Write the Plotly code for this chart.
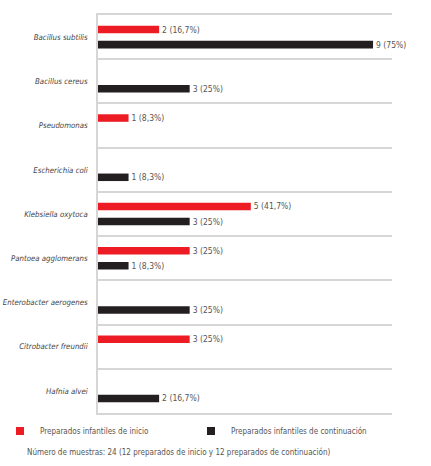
import plotly.graph_objects as go

categories = ["Bacillus subtilis", "Bacillus cereus", "Pseudomonas", "Escherichia coli",
              "Klebsiella oxytoca", "Pantoea agglomerans", "Enterobacter aerogenes",
              "Citrobacter freundii", "Hafnia alvei"]
inicio = [2, None, 1, None, 5, 3, None, 3, None]
continuacion = [9, 3, None, 1, 3, 1, 3, None, 2]
total_por_grupo = 12
series_names = ["Preparados infantiles de inicio", "Preparados infantiles de continuación"]
footer = "Número de muestras: 24 (12 preparados de inicio y 12 preparados de continuación)"


def labels(vals):
    out = []
    for v in vals:
        if v is None:
            out.append("")
            continue
        p = round(v / total_por_grupo * 100, 1)
        s = ("%g" % p).replace(".", ",")
        out.append(f"{v} ({s}%)")
    return out


RED = "#ed1c24"
BLACK = "#231f20"
FONT = "DejaVu Sans Condensed, Liberation Sans Narrow, Liberation Sans, sans-serif"
GRAY = "#555555"

fig = go.Figure()
for i, (name, vals, col) in enumerate([(series_names[0], inicio, RED),
                                       (series_names[1], continuacion, BLACK)]):
    fig.add_trace(go.Bar(
        y=categories, x=vals, orientation="h", name=name,
        marker=dict(color=col, line=dict(width=0)),
        text=labels(vals), textposition="outside", cliponaxis=False,
        constraintext="none",
        textfont=dict(family=FONT, size=8.5, color=GRAY),
        showlegend=False,
    ))
    fig.add_trace(go.Scatter(
        x=[None], y=[None], mode="markers", name=name,
        marker=dict(symbol="square", size=8, color=col),
        legendwidth=146 if i == 0 else 140,
        showlegend=True,
    ))

fig.update_layout(
    width=431, height=466,
    margin=dict(l=98, r=39, t=15, b=53, autoexpand=False),
    paper_bgcolor="white", plot_bgcolor="white",
    barmode="group", bargap=0.32, bargroupgap=0.5,
    font=dict(family=FONT, color=GRAY, size=8),
    xaxis=dict(range=[0, 9.62], visible=True, showgrid=False, zeroline=False,
               showticklabels=False, ticks="", showline=True, mirror=True,
               linecolor="#d6d6d6", linewidth=1.5, automargin=False),
    yaxis=dict(autorange="reversed", type="category", tickson="boundaries",
               showgrid=True, gridcolor="#d6d6d6", gridwidth=1.5,
               showline=True, linecolor="#d6d6d6", linewidth=1.5,
               ticks="", ticklabelstandoff=7, automargin=False,
               tickfont=dict(family=FONT, size=7.8, color="#444444", style="italic")),
    legend=dict(orientation="h", xref="paper", yref="paper",
                x=-98 / 294, y=(413 - 431) / 398, xanchor="left", yanchor="middle",
                entrywidthmode="pixels",
                font=dict(family=FONT, size=8, color=GRAY),
                bgcolor="rgba(0,0,0,0)"),
    annotations=[dict(text=footer, xref="paper", yref="paper",
                      x=(25 - 98) / 294, y=(413 - 452) / 398,
                      xanchor="left", yanchor="middle", showarrow=False,
                      font=dict(family=FONT, size=8, color=GRAY))],
)

fig.write_html("out.html", config={"displayModeBar": False},
               post_script="document.body.style.margin='0';")
